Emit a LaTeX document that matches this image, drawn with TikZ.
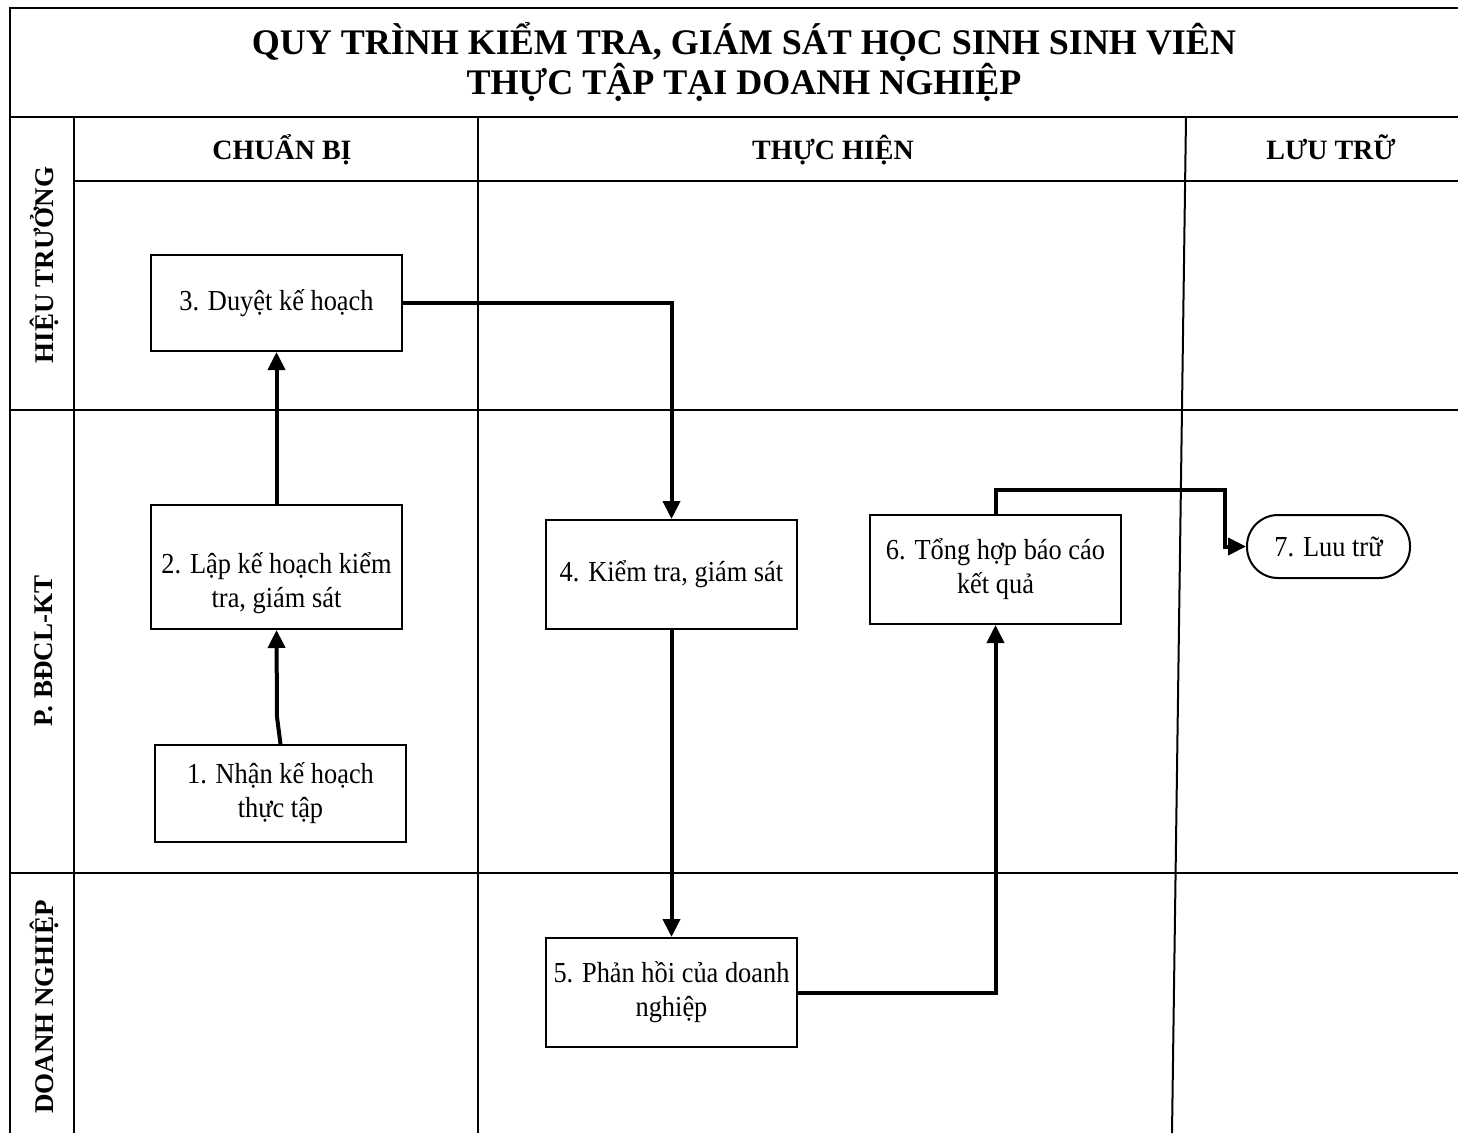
\documentclass[tikz,border=0pt]{standalone}
\usepackage{fontspec}
\setmainfont{Liberation Serif}
\newfontfamily\boxfont[FakeStretch=0.91]{Liberation Serif}
\usetikzlibrary{arrows.meta}
\tikzset{
  frame/.style={line width=2pt, black},
  box/.style={draw, line width=2pt, minimum width=251pt, inner sep=2pt, align=center,
    font=\boxfont\fontsize{29pt}{34pt}\selectfont},
  txt/.style={align=center, inner sep=0pt, font=\boxfont\fontsize{29pt}{34pt}\selectfont},
  hdr/.style={font=\bfseries\fontsize{28pt}{32pt}\selectfont, inner sep=0pt, anchor=base},
  lane/.style={font=\bfseries\fontsize{27pt}{32pt}\selectfont, rotate=90, inner sep=0pt},
  ttl/.style={font=\bfseries\fontsize{36pt}{40pt}\selectfont, align=center, inner sep=0pt},
  arr/.style={line width=4pt, -{Triangle[length=18pt,width=17pt]}},
}
\begin{document}
\begin{tikzpicture}[x=1pt,y=-1pt]
\useasboundingbox (0,0) rectangle (1458,1133);
\fill[white] (0,0) rectangle (1458,1133);
% frame
\draw[frame] (10,1133) -- (10,8) -- (1458,8);
\draw[frame] (10,117) -- (1458,117);
\draw[frame] (74,181) -- (1458,181);
\draw[frame] (10,410) -- (1458,410);
\draw[frame] (10,873) -- (1458,873);
\draw[frame] (74,117) -- (74,1133);
\draw[frame] (478,117) -- (478,1133);
\draw[frame] (1186,117) -- (1172,1133);
% title
\node[ttl] (title) at (744,62) {QUY TRÌNH KIỂM TRA, GIÁM SÁT HỌC SINH SINH VIÊN\\THỰC TẬP TẠI DOANH NGHIỆP};
% headers
\node[hdr] (h1) at (282,159) {CHUẨN BỊ};
\node[hdr] (h2) at (833,159) {THỰC HIỆN};
\node[hdr] (h3) at (1331,159) {LƯU TRỮ};
% lanes
\node[lane] (l1) at (44,265) {HIỆU TRƯỞNG};
\node[lane] (l2) at (44,651) {P. BĐCL-KT};
\node[lane] (l3) at (44,1007) {DOANH NGHIỆP};
% boxes
\node[box, minimum height=96pt] (b3) at (276.5,303) {3. Duyệt kế hoạch};
\node[box, minimum height=124pt] (b2) at (276.5,567) {};
\node[txt] (t2) at (276.5,583) {2. Lập kế hoạch kiểm\\tra, giám sát};
\node[box, minimum height=97pt] (b1) at (280.5,793.5) {1. Nhận kế hoạch\\thực tập};
\node[box, minimum height=109pt] (b4) at (671.5,574.5) {4. Kiểm tra, giám sát};
\node[box, minimum height=109pt] (b5) at (671.5,992.5) {5. Phản hồi của doanh\\nghiệp};
\node[box, minimum height=109pt] (b6) at (995.5,569.5) {6. Tổng hợp báo cáo\\kết quả};
\node[box, minimum width=163pt, minimum height=63pt, rounded corners=31pt] (b7) at (1328.5,546.5) {7. Luu trữ};
% connectors
\coordinate (k1) at (277,717);
\coordinate (k6) at (1225,490);
\draw[arr] (b1.north) -- (k1) -- (b2.south);
\draw[arr] (b2.north) -- (b3.south);
\draw[arr] (b3.east) -| (b4.north);
\draw[arr] (b4.south) -- (b5.north);
\draw[arr] (b5.east) -| (b6.south);
\draw[arr] (b6.north) |- (k6) |- (b7.west);
\end{tikzpicture}
\end{document}
